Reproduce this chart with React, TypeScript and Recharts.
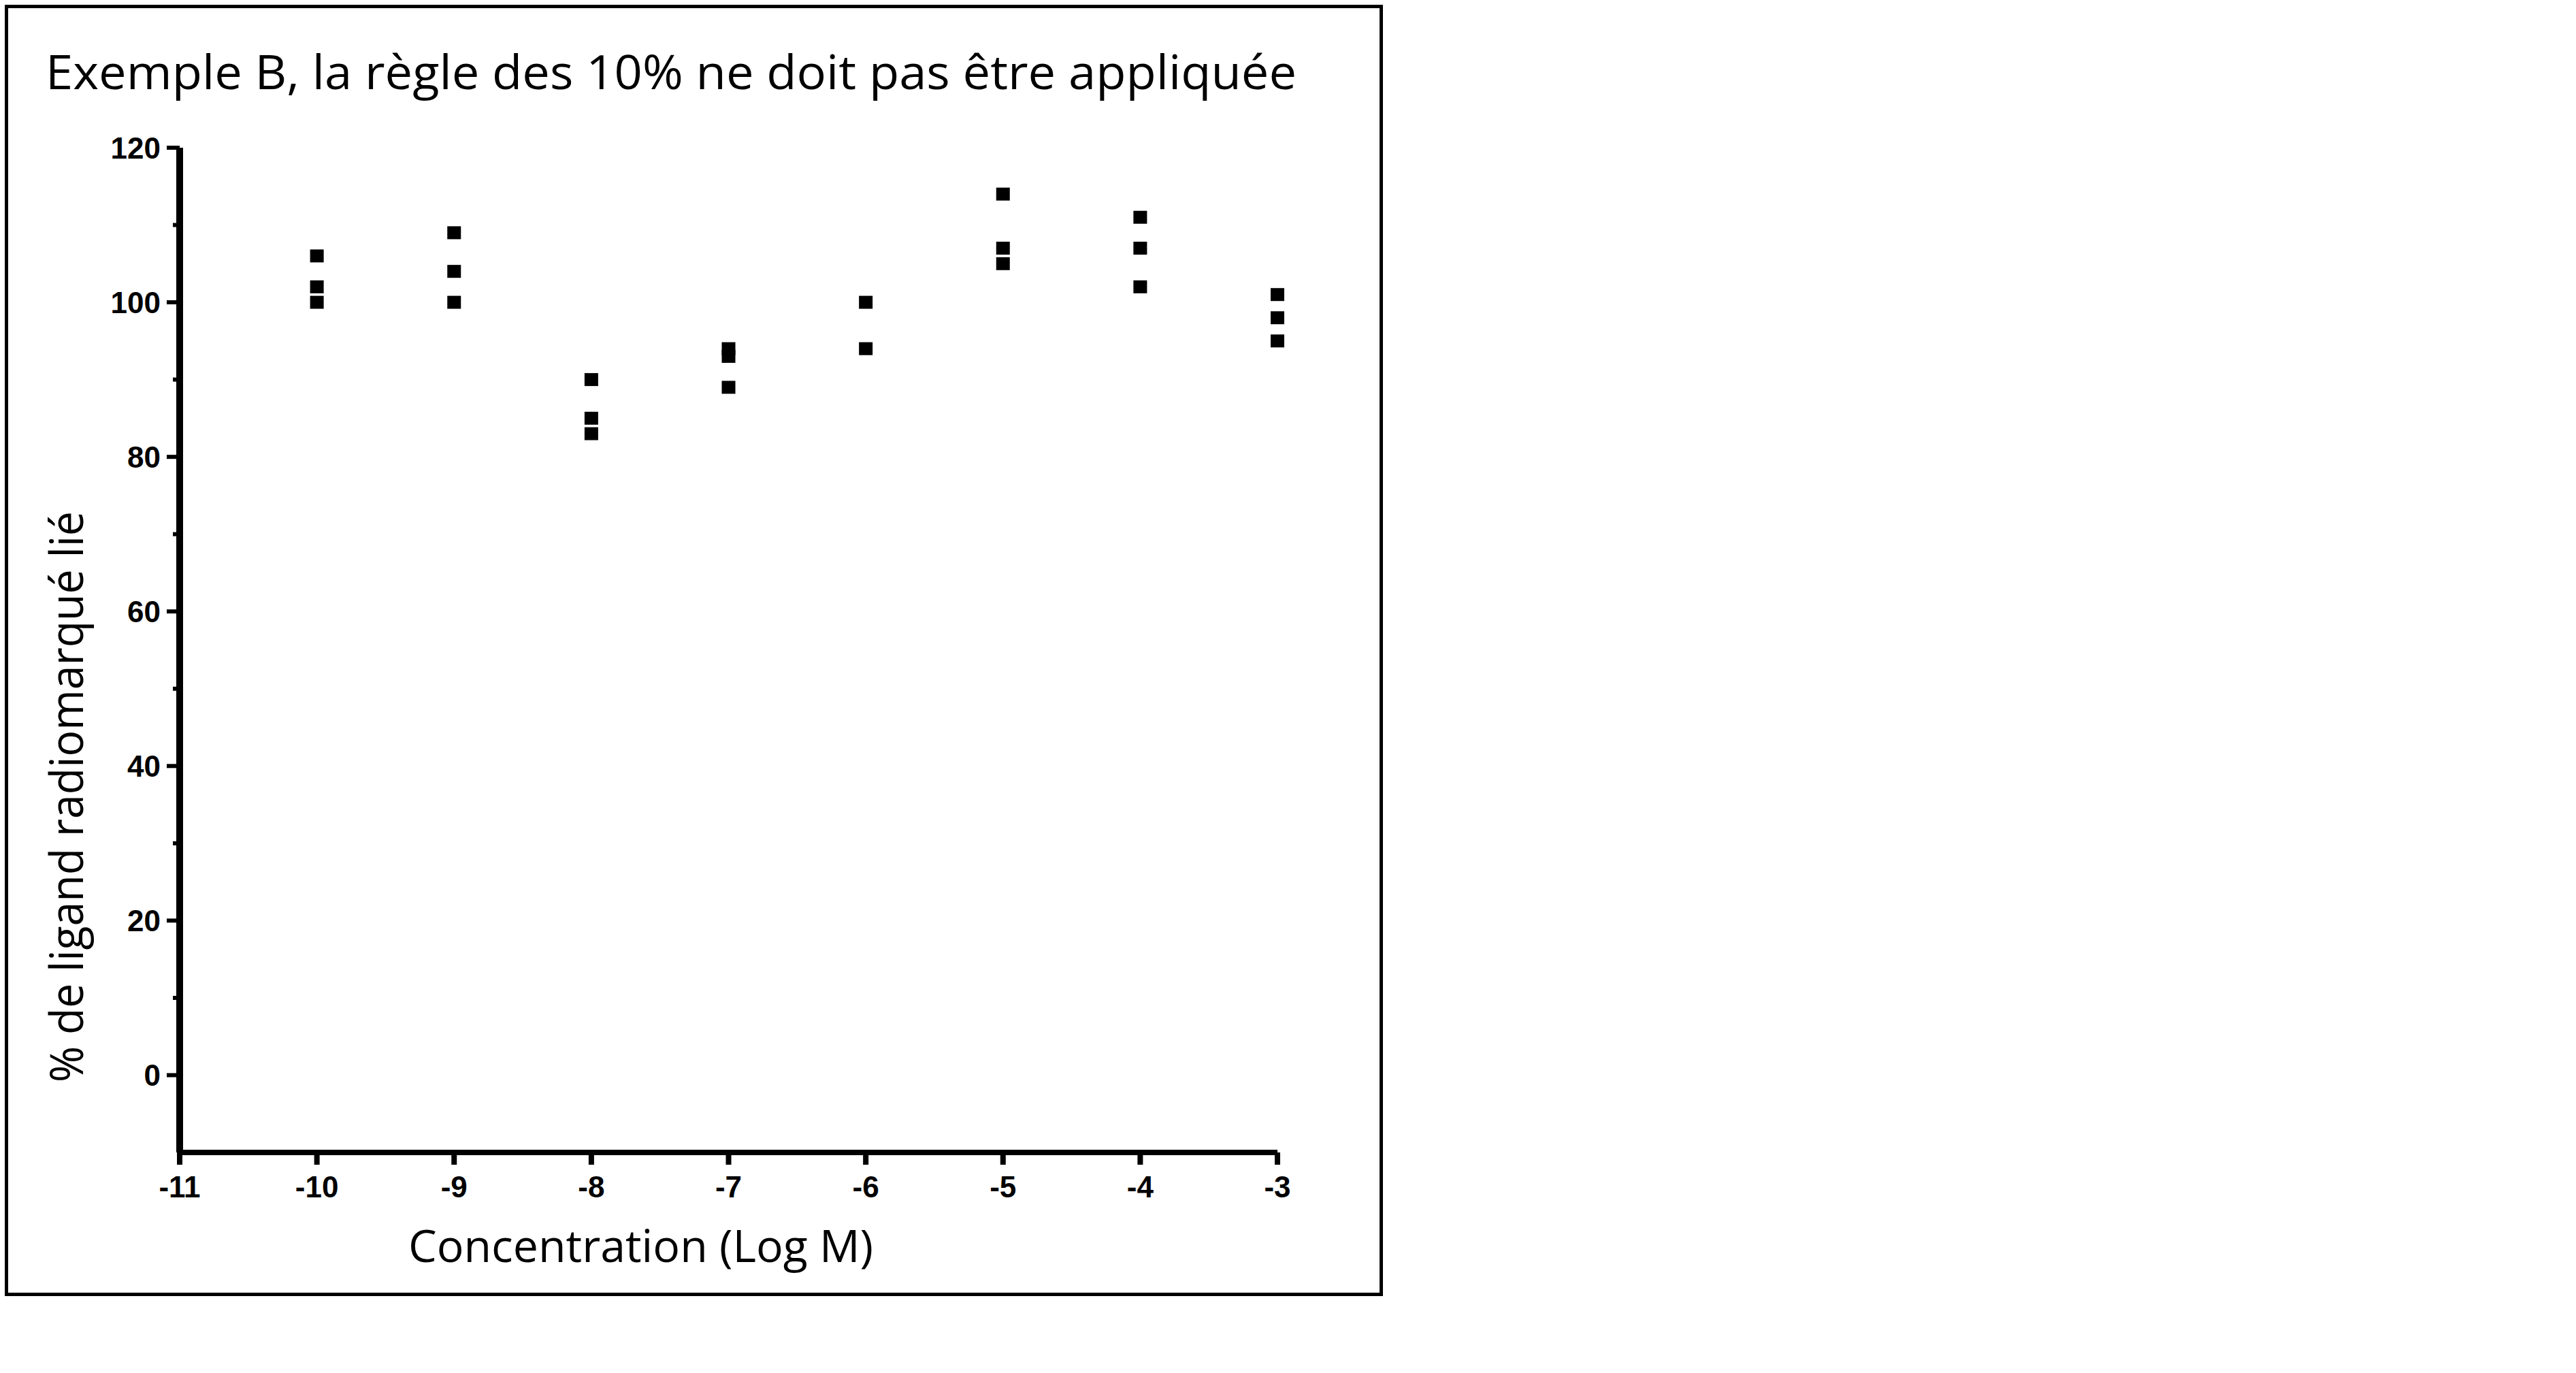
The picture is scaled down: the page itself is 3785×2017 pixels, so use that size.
import { ScatterChart, Scatter, XAxis, YAxis } from "recharts";

// log concentrations and the three replicate measurements (% bound)
const concentrations = [-10, -9, -8, -7, -6, -5, -4, -3];
const rep1 = [106, 109, 90, 94, 100, 114, 111, 101];
const rep2 = [102, 104, 85, 93, 94, 107, 107, 98];
const rep3 = [100, 100, 83, 89, null, 105, 102, 95];

const xTicks = [-11, -10, -9, -8, -7, -6, -5, -4, -3];
const yTicks = [0, 10, 20, 30, 40, 50, 60, 70, 80, 90, 100, 110, 120];

const title = "Exemple B, la règle des 10% ne doit pas être appliquée";
const xLabel = "Concentration (Log M)";
const yLabel = "% de ligand radiomarqué lié";

const points: { x: number; y: number }[] = [];
[rep1, rep2, rep3].forEach((rep) =>
  rep.forEach((v, i) => {
    if (v !== null) points.push({ x: concentrations[i], y: v });
  })
);

const tickFont = "'Liberation Sans', Arial, sans-serif";
const labelFont = "'Open Sans', 'Noto Sans', sans-serif";

const YTick = (props: any) => {
  const { x, y, payload } = props;
  const major = payload.value % 20 === 0;
  return (
    <g>
      <line x1={x - (major ? 19 : 10)} x2={x} y1={y} y2={y} stroke="#000" strokeWidth={6} />
      {major && (
        <text
          x={x - 28}
          y={y}
          dy="0.355em"
          textAnchor="end"
          fontFamily={tickFont}
          fontWeight="bold"
          fontSize={44}
          fill="#000"
        >
          {payload.value}
        </text>
      )}
    </g>
  );
};

const XTick = (props: any) => {
  const { x, y, payload } = props;
  return (
    <g>
      <line x1={x} x2={x} y1={y} y2={y + 18} stroke="#000" strokeWidth={8} />
      <text
        x={x}
        y={y + 66}
        textAnchor="middle"
        fontFamily={tickFont}
        fontWeight="bold"
        fontSize={44}
        fill="#000"
      >
        {payload.value}
      </text>
    </g>
  );
};

const SquareDot = (props: any) => {
  const { cx, cy } = props;
  return <rect x={cx - 10} y={cy - 9.5} width={20} height={19} fill="#000" />;
};

export default function App() {
  return (
    <div style={{ position: "absolute", left: 0, top: 0, width: 2040, height: 1910 }}>
      <div
        style={{
          position: "absolute",
          left: 7,
          top: 7,
          width: 2025,
          height: 1897,
          border: "5px solid #000",
          boxSizing: "border-box",
          background: "#fff",
        }}
      />
      <div style={{ position: "absolute", left: 0, top: 0 }}>
        <ScatterChart
          width={2040}
          height={1910}
          margin={{ top: 217, right: 163, bottom: 67, left: 64 }}
        >
          <XAxis
            type="number"
            dataKey="x"
            domain={[-11, -3]}
            ticks={xTicks}
            interval={0}
            height={150}
            tickSize={0}
            tickMargin={0}
            tickLine={false}
            axisLine={{ stroke: "#000", strokeWidth: 8 }}
            tick={<XTick />}
          />
          <YAxis
            type="number"
            dataKey="y"
            domain={[-10, 120]}
            ticks={yTicks}
            interval={0}
            width={200}
            tickSize={0}
            tickMargin={0}
            tickLine={false}
            axisLine={{ stroke: "#000", strokeWidth: 10 }}
            tick={<YTick />}
          />
          <Scatter data={points} fill="#000" shape={<SquareDot />} isAnimationActive={false} />
        </ScatterChart>
      </div>
      <svg
        width={2040}
        height={1910}
        style={{ position: "absolute", left: 0, top: 0, pointerEvents: "none" }}
      >
        <text
          x={67}
          y={131}
          fontFamily={labelFont}
          fontSize={69}
          fill="#000"
          textLength={1838}
          lengthAdjust="spacingAndGlyphs"
        >
          {title}
        </text>
        <text
          x={600}
          y={1854}
          fontFamily={labelFont}
          fontSize={66}
          fill="#000"
          textLength={683}
          lengthAdjust="spacingAndGlyphs"
        >
          {xLabel}
        </text>
        <text
          transform="translate(122,1590) rotate(-90)"
          x={0}
          y={0}
          fontFamily={labelFont}
          fontSize={67}
          fill="#000"
          textLength={839}
          lengthAdjust="spacingAndGlyphs"
        >
          {yLabel}
        </text>
      </svg>
    </div>
  );
}
